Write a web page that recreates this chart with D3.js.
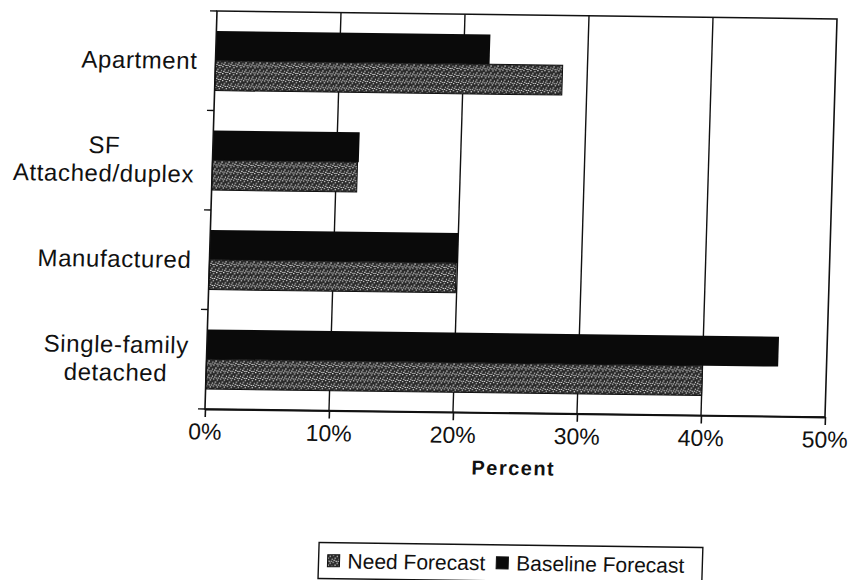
<!DOCTYPE html>
<html>
<head>
<meta charset="utf-8">
<script src="https://cdn.jsdelivr.net/npm/d3@7"></script>
<style>
  html, body { margin: 0; padding: 0; background: #fff; }
  svg { display: block; }
  text { font-family: "Liberation Sans", Arial, Helvetica, sans-serif; fill: #111; }
</style>
</head>
<body>
<svg id="chart" width="852" height="580"></svg>
<script>
// Housing type shares, two forecasts
const categories = ["Apartment", "SF\nAttached/duplex", "Manufactured", "Single-family\ndetached"];
const needForecast = [0.280, 0.117, 0.199, 0.400];
const baselineForecast = [0.221, 0.118, 0.200, 0.461];
const seriesNames = ["Need Forecast", "Baseline Forecast"];
const xTickValues = [0, 0.1, 0.2, 0.3, 0.4, 0.5];
const axisTitle = "Percent";

const svg = d3.select("#chart");
const plot = { left: 217, right: 837, top: 11, bottom: 409 };

// the printed sheet sits slightly askew; shear everything about the plot's top-left corner
const shearX = -0.0302, shearY = 0.0129;
const root = svg.append("g")
  .attr("transform", `matrix(1,${shearY},${shearX},1,${-shearX * plot.top},${-shearY * plot.left})`);

// stippled fill for the "Need" series
const defs = svg.append("defs");
const pat = defs.append("pattern")
  .attr("id", "stipple").attr("patternUnits", "userSpaceOnUse")
  .attr("width", 7).attr("height", 7);
pat.append("rect").attr("width", 7).attr("height", 7).attr("fill", "#2a2a2a");
[[0,0],[4,1],[2,3],[6,4],[1,5],[5,6],[3,6]].forEach(([px, py]) =>
  pat.append("rect").attr("x", px).attr("y", py).attr("width", 1.3).attr("height", 1.1).attr("fill", "#e8e8e8"));

const x = d3.scaleLinear().domain([0, 0.5]).range([plot.left, plot.right]);
const y0 = d3.scaleBand().domain(categories).range([plot.top, plot.bottom])
  .paddingInner(0.4).paddingOuter(0.2);
const y1 = d3.scaleBand().domain(["baseline", "need"]).range([0, y0.bandwidth()]);

// vertical gridlines
root.append("g").selectAll("line")
  .data(xTickValues.filter(v => v > 0 && v < 0.5))
  .join("line")
  .attr("x1", d => x(d)).attr("x2", d => x(d))
  .attr("y1", plot.top).attr("y2", plot.bottom)
  .attr("stroke", "#111").attr("stroke-width", 1.4);

// bars
const rows = categories.map((c, i) => ({ cat: c, need: needForecast[i], base: baselineForecast[i] }));
const groups = root.append("g").selectAll("g").data(rows).join("g")
  .attr("transform", d => `translate(0,${y0(d.cat)})`);
groups.append("rect")
  .attr("x", x(0)).attr("y", y1("baseline"))
  .attr("width", d => x(d.base) - x(0)).attr("height", y1.bandwidth())
  .attr("fill", "#0a0a0a");
groups.append("rect")
  .attr("x", x(0)).attr("y", y1("need"))
  .attr("width", d => x(d.need) - x(0)).attr("height", y1.bandwidth())
  .attr("fill", "url(#stipple)").attr("stroke", "#111").attr("stroke-width", 1);

// plot frame
root.append("rect")
  .attr("x", plot.left).attr("y", plot.top)
  .attr("width", plot.right - plot.left).attr("height", plot.bottom - plot.top)
  .attr("fill", "none").attr("stroke", "#111").attr("stroke-width", 1.6);

// bottom axis
const xAxis = d3.axisBottom(x).tickValues(xTickValues).tickFormat(d3.format(".0%"))
  .tickSizeInner(8).tickSizeOuter(0).tickPadding(6);
const gx = root.append("g").attr("transform", `translate(0,${plot.bottom})`).call(xAxis);
gx.select(".domain").attr("stroke", "#111").attr("stroke-width", 1.8);
gx.selectAll(".tick line").attr("stroke", "#111").attr("stroke-width", 1.6);
gx.selectAll(".tick text")
  .attr("font-family", "Liberation Sans, Arial, sans-serif")
  .attr("font-size", 23).attr("fill", "#111").attr("dy", "0.72em");

// left axis tick marks at category boundaries
const step = y0.step();
root.append("g").selectAll("line")
  .data(d3.range(categories.length + 1))
  .join("line")
  .attr("x1", plot.left - 7).attr("x2", plot.left)
  .attr("y1", i => plot.top + i * step).attr("y2", i => plot.top + i * step)
  .attr("stroke", "#111").attr("stroke-width", 1.4);

// category labels: lines centred within a right-aligned block
const fs = 24, lh = 28, labelRight = 199;
categories.forEach(c => {
  const lines = c.split("\n");
  const yc = y0(c) + y0.bandwidth() / 2;
  const g = root.append("g");
  const ts = lines.map((ln, i) => g.append("text")
    .attr("font-size", fs).attr("letter-spacing", 0.6)
    .attr("text-anchor", "middle")
    .attr("y", yc + (i - (lines.length - 1) / 2) * lh + 0.35 * fs)
    .text(ln));
  const maxW = d3.max(ts, t => t.node().getComputedTextLength());
  ts.forEach(t => t.attr("x", labelRight - maxW / 2));
});

// axis title
root.append("text")
  .attr("x", (plot.left + plot.right) / 2).attr("y", 471)
  .attr("text-anchor", "middle").attr("font-size", 20).attr("font-weight", "bold")
  .attr("letter-spacing", 1.5)
  .text(axisTitle);

// legend
const legend = root.append("g");
const lgTop = 541, lgH = 36, lgFs = 21;
const items = [
  { name: seriesNames[0], fill: "url(#stipple)" },
  { name: seriesNames[1], fill: "#0a0a0a" }
];
let cursor = 9;
items.forEach((it, i) => {
  legend.append("rect")
    .attr("x", cursor).attr("y", lgTop + lgH / 2 - 6)
    .attr("width", 12).attr("height", 12)
    .attr("fill", it.fill).attr("stroke", "#111").attr("stroke-width", 1);
  cursor += 12 + 8;
  const t = legend.append("text")
    .attr("x", cursor).attr("y", lgTop + lgH / 2 + 0.36 * lgFs)
    .attr("font-size", lgFs).text(it.name);
  cursor += t.node().getComputedTextLength() + (i === 0 ? 11 : 18);
});
const lgW = cursor;
legend.insert("rect", ":first-child")
  .attr("x", 0).attr("y", lgTop).attr("width", lgW).attr("height", lgH)
  .attr("fill", "#fff").attr("stroke", "#111").attr("stroke-width", 1.4);
legend.attr("transform", `translate(${(plot.left + plot.right) / 2 - lgW / 2},0)`);
</script>
</body>
</html>
